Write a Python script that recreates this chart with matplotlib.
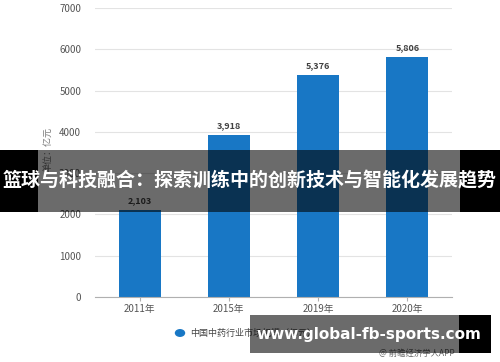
import matplotlib
matplotlib.use("Agg")
import matplotlib.pyplot as plt
from matplotlib.patches import Rectangle

plt.rcParams['font.family'] = ['Noto Sans CJK SC', 'DejaVu Sans']

# data
years = ["2011年", "2015年", "2019年", "2020年"]
values = [2103, 3918, 5376, 5806]
y_ticks = [0, 1000, 2000, 3000, 4000, 5000, 6000, 7000]
legend_label = "中国中药行业市场规模（亿元）"
title = "篮球与科技融合：探索训练中的创新技术与智能化发展趋势"
site = "www.global-fb-sports.com"

W, H = 500, 362
fig = plt.figure(figsize=(5, 3.62), dpi=100)
ax = fig.add_axes([95 / W, 1 - 297 / H, (452 - 95) / W, (297 - 8) / H])

bar_color = "#1877c5"
x = list(range(len(years)))
ax.bar(x, values, width=0.47, color=bar_color, zorder=2)
for xi, v in zip(x, values):
    ax.text(xi, v + 120, f"{v:,}", ha="center", va="bottom",
            fontsize=6.5, fontweight="bold", color="#404040")

ax.set_xlim(-0.5, 3.5)
ax.set_ylim(0, 7000)
ax.set_yticks(y_ticks)
ax.set_xticks(x)
ax.set_xticklabels(years)
ax.grid(axis="y", color="#e3e3e3", linewidth=0.8, zorder=0)
for s in ["top", "right", "left"]:
    ax.spines[s].set_visible(False)
ax.spines["bottom"].set_color("#b0b0b0")
ax.tick_params(axis="y", length=0, labelsize=7, labelcolor="#555555", pad=10)
ax.tick_params(axis="x", length=3, color="#b0b0b0", labelsize=7,
               labelcolor="#555555", pad=2)

fig.text(48 / W, 1 - 150 / H, "单位：亿元", rotation=90, ha="center",
         va="center", fontsize=6.5, color="#777777")

# legend
fig.patches.append(plt.Circle((180 / W, 1 - 333 / H), 0.009, color=bar_color,
                              transform=fig.transFigure, figure=fig))
fig.text(190 / W, 1 - 333 / H, legend_label, ha="left", va="center",
         fontsize=6.5, color="#444444")
fig.text(455 / W, 1 - 353 / H, "@ 前瞻经济学人APP", ha="right", va="center",
         fontsize=6, color="#666666")

# overlay bands
def band(x0, y0, x1, y1, color, alpha):
    fig.patches.append(Rectangle((x0 / W, 1 - y1 / H), (x1 - x0) / W,
                                 (y1 - y0) / H, transform=fig.transFigure,
                                 facecolor=color, alpha=alpha, edgecolor="none",
                                 figure=fig, zorder=5))

band(0, 150, 38, 212, "black", 1.0)
band(38, 150, 460, 212, "black", 0.58)
band(460, 150, 500, 212, "black", 1.0)
fig.text(0.5, 1 - 181 / H, title, ha="center", va="center", fontsize=13.7,
         fontweight="bold", color="white", zorder=6)

band(250, 315, 459, 353, "black", 0.58)
band(459, 315, 491, 353, "black", 1.0)
fig.text(369 / W, 1 - 334 / H, site, ha="center", va="center", fontsize=11,
         fontweight="bold", color="white", family=["DejaVu Sans"], zorder=6)

fig.savefig("out.png", dpi=100)
